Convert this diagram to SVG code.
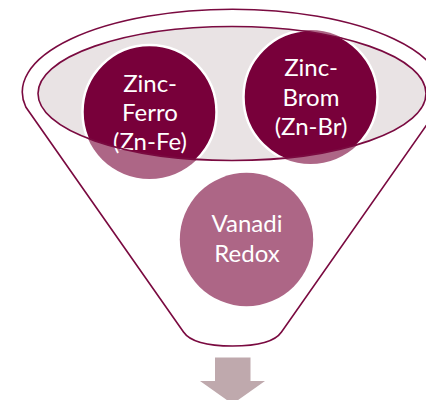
<svg xmlns="http://www.w3.org/2000/svg" width="426" height="400" viewBox="0 0 426 400">
  <style>
    .outline { fill: none; stroke: #7a0a40; stroke-width: 1.6; }
    .dark { fill: #78003a; stroke: #ffffff; stroke-width: 2.5; }
    .light { fill: #ad6686; }
    .label { font-family: Lato, "Open Sans", sans-serif; font-size: 24px; fill: #ffffff; text-anchor: middle; }
    .arrow { fill: #bfa9ad; }
  </style>
  <defs>
    <clipPath id="mouth">
      <ellipse cx="232" cy="93.5" rx="194" ry="67"/>
    </clipPath>
  </defs>

  <!-- funnel mouth (opening) -->
  <ellipse cx="232" cy="93.5" rx="194" ry="67" fill="#e9e3e4"/>

  <!-- items in the funnel: lighter where they sit below the mouth -->
  <g id="zinc-ferro">
    <circle class="light" cx="149.5" cy="112" r="67"/>
    <circle class="dark" cx="149.5" cy="112" r="67" clip-path="url(#mouth)"/>
    <text class="label" x="150" y="92">Zinc-</text>
    <text class="label" x="150" y="121">Ferro</text>
    <text class="label" x="150" y="150">(Zn-Fe)</text>
  </g>
  <g id="zinc-brom">
    <circle class="light" cx="310.5" cy="97" r="67"/>
    <circle class="dark" cx="310.5" cy="97" r="67" clip-path="url(#mouth)"/>
    <text class="label" x="311" y="76">Zinc-</text>
    <text class="label" x="311" y="105.5">Brom</text>
    <text class="label" x="311" y="135">(Zn-Br)</text>
  </g>
  <g id="vanadi-redox">
    <circle class="light" cx="246.5" cy="239.5" r="66.7"/>
    <text class="label" x="247" y="231.5">Vanadi</text>
    <text class="label" x="247" y="261.5">Redox</text>
  </g>

  <!-- funnel body and rim -->
  <g id="funnel">
    <path class="outline" d="M25.8,107 A210.2,82.7 0 1 1 439.2,107 L281.5,332 Q272,346 232.5,346 Q193,346 183.5,332 Z"/>
    <ellipse class="outline" cx="232" cy="93.5" rx="194" ry="67"/>
  </g>

  <!-- output arrow -->
  <g id="connectors">
    <path class="arrow" d="M215,357.5 H250.5 V381 H265 L232.5,404 L200,381 H215 Z"/>
  </g>
</svg>
